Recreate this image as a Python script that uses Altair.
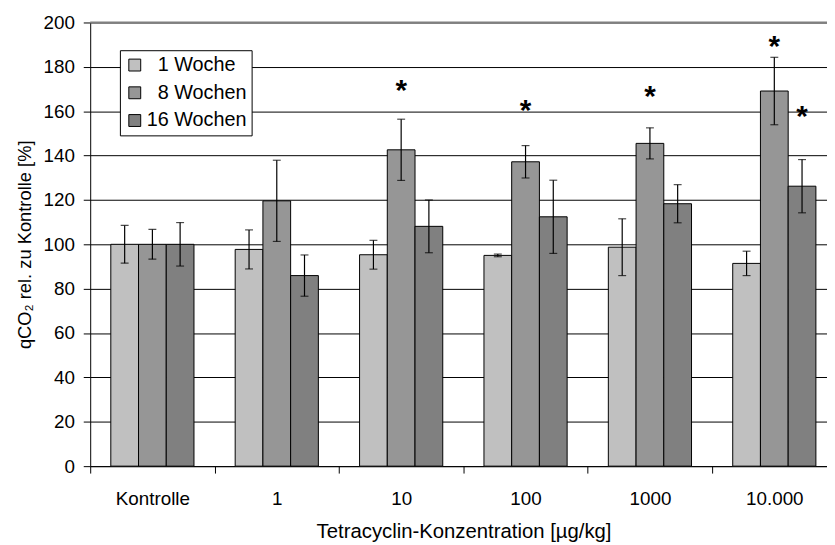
import altair as alt
import pandas as pd

categories = ["Kontrolle", "1", "10", "100", "1000", "10.000"]
series = ["1 Woche", "8 Wochen", "16 Wochen"]
legend_labels = ["\u200b\u00a0\u00a01 Woche", "\u200b\u00a0\u00a08 Wochen", "16 Wochen"]
w1 = [100, 97.7, 95.3, 95.0, 98.7, 91.4]
w1_err = [8.5, 8.8, 6.5, 0.6, 12.8, 5.5]
w8 = [100, 119.6, 142.6, 137.2, 145.5, 169.1]
w8_err = [6.7, 18.3, 13.8, 7.3, 7.0, 15.2]
w16 = [100, 85.9, 108.1, 112.4, 118.3, 126.2]
w16_err = [9.8, 9.3, 11.9, 16.5, 8.6, 12.0]
star_cat = ["10", "100", "1000", "10.000", "10.000"]
star_series = ["8 Wochen", "8 Wochen", "8 Wochen", "8 Wochen", "16 Wochen"]
star_y = [170.2, 161.2, 167.9, 190.3, 158.5]
colors = ["#c0c0c0", "#969696", "#808080"]

rows = []
for i, c in enumerate(categories):
    for s, lab, vals, errs in zip(series, legend_labels, [w1, w8, w16],
                                  [w1_err, w8_err, w16_err]):
        rows.append({"cat": c, "series": s, "label": lab, "value": vals[i],
                     "lo": vals[i] - errs[i], "hi": vals[i] + errs[i]})
df = pd.DataFrame(rows)
stars = pd.DataFrame({"cat": star_cat, "series": star_series, "value": star_y})
top = pd.DataFrame({"value": [200]})

FONT = "Liberation Sans"
YTITLE = "qCO\u2082 rel. zu Kontrolle [%]"
XTITLE = "Tetracyclin-Konzentration [\u00b5g/kg]"

x_enc = alt.X("cat:N", sort=categories, title=XTITLE,
              scale=alt.Scale(range=[0, 753.6], paddingInner=0, paddingOuter=0),
              axis=alt.Axis(tickBand="extent", labelAngle=0, labelPadding=17,
                            titlePadding=13, titleX=377, titleFontSize=20.5,
                            grid=False))
xo_enc = alt.XOffset("series:N", sort=series,
                     scale=alt.Scale(paddingInner=0, paddingOuter=0.743))
y_scale = alt.Scale(domain=[0, 200], nice=False)

bars = alt.Chart(df).mark_bar(stroke="black", strokeWidth=1, opacity=1).encode(
    x=x_enc, xOffset=xo_enc,
    y=alt.Y("value:Q", scale=y_scale, title=YTITLE),
    color=alt.Color("label:N", sort=legend_labels,
                    scale=alt.Scale(domain=legend_labels, range=colors),
                    legend=alt.Legend(
                        title=None, orient="none", legendX=30, legendY=28,
                        fillColor="white", strokeColor="black", padding=5,
                        symbolType="square", symbolSize=144,
                        symbolStrokeColor="black", symbolStrokeWidth=1,
                        symbolOpacity=1, rowPadding=8, labelOffset=2,
                        labelFontSize=20, labelFont=FONT, labelColor="black")),
)

err = alt.Chart(df).mark_rule(color="black", strokeWidth=1.2).encode(
    x=x_enc, xOffset=xo_enc,
    y=alt.Y("lo:Q", scale=y_scale, title=YTITLE), y2="hi:Q")
cap_lo = alt.Chart(df).mark_tick(color="black", orient="horizontal", size=8,
                                 thickness=1.2).encode(
    x=x_enc, xOffset=xo_enc, y=alt.Y("lo:Q", scale=y_scale, title=YTITLE))
cap_hi = alt.Chart(df).mark_tick(color="black", orient="horizontal", size=8,
                                 thickness=1.2).encode(
    x=x_enc, xOffset=xo_enc, y=alt.Y("hi:Q", scale=y_scale, title=YTITLE))

star_layer = alt.Chart(stars).mark_text(
    text="*", fontSize=30, fontWeight="bold", font=FONT, color="black",
    baseline="alphabetic", dy=12).encode(
    x=x_enc, xOffset=xo_enc, y=alt.Y("value:Q", scale=y_scale, title=YTITLE))

top_rule = alt.Chart(top).mark_rule(color="#808080", strokeWidth=2).encode(
    y=alt.Y("value:Q", scale=y_scale, title=YTITLE))

chart = alt.layer(bars, err, cap_lo, cap_hi, star_layer, top_rule).properties(
    width=744, height=448,
    autosize=alt.AutoSizeParams(type="none"),
    padding={"left": 83, "top": 12, "right": 0, "bottom": 77},
    background="white",
).configure_view(stroke=None).configure_axis(
    labelFont=FONT, titleFont=FONT, labelFontSize=19, titleFontSize=19,
    titleFontWeight="normal", labelColor="black", titleColor="black",
    tickColor="black", domainColor="black", gridColor="black",
    gridOpacity=1, tickSize=7, domainWidth=1, tickWidth=1, gridWidth=1,
).configure_axisY(
    grid=True, tickCount=10, labelPadding=9, titlePadding=9, titleFontSize=18.5,
)

chart.save("out.html", embed_options={"renderer": "svg", "actions": False})
